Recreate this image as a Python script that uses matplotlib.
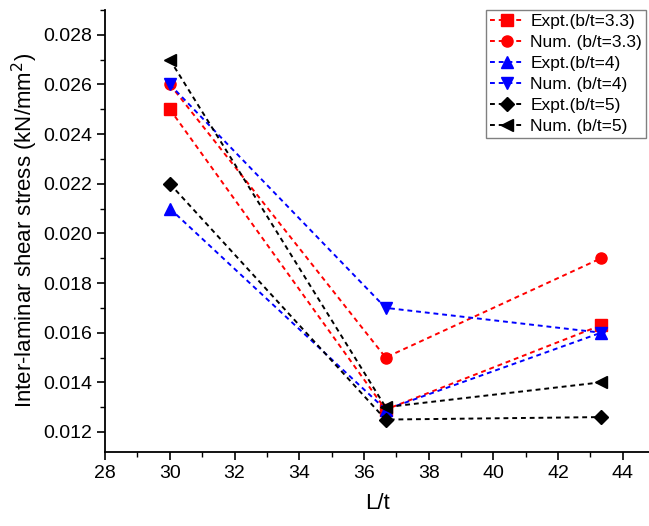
import numpy as np
import matplotlib.pyplot as plt
from matplotlib.ticker import MultipleLocator, FormatStrFormatter

plt.rcParams['font.family'] = ['Liberation Sans', 'DejaVu Sans']

lt = [30, 36.67, 43.33]
expt_33 = [0.025, 0.0129, 0.0163]
num_33 = [0.026, 0.015, 0.019]
expt_4 = [0.021, 0.0129, 0.016]
num_4 = [0.026, 0.017, 0.016]
expt_5 = [0.022, 0.0125, 0.0126]
num_5 = [0.027, 0.013, 0.014]

series = [
    (expt_33, 'Expt.(b/t=3.3)', 'red', 's'),
    (num_33, 'Num. (b/t=3.3)', 'red', 'o'),
    (expt_4, 'Expt.(b/t=4)', 'blue', '^'),
    (num_4, 'Num. (b/t=4)', 'blue', 'v'),
    (expt_5, 'Expt.(b/t=5)', 'black', 'D'),
    (num_5, 'Num. (b/t=5)', 'black', '<'),
]

fig = plt.figure(figsize=(6.49, 5.26), dpi=100)
ax = fig.add_axes([0.162, 0.141, 0.838, 0.840])

for vals, lab, col, mk in series:
    ms = 7 if mk == 'D' else 8
    ax.plot(lt, vals, linestyle=(0, (2.5, 2)), color=col, marker=mk,
            markersize=ms, linewidth=1.4, label=lab)

ax.set_xlim(28, 44.81)
ax.set_ylim(0.0112, 0.029)
ax.xaxis.set_major_locator(MultipleLocator(2))
ax.xaxis.set_minor_locator(MultipleLocator(1))
ax.yaxis.set_major_locator(MultipleLocator(0.002))
ax.yaxis.set_minor_locator(MultipleLocator(0.001))
ax.yaxis.set_major_formatter(FormatStrFormatter('%.3f'))

ax.spines['top'].set_visible(False)
ax.spines['right'].set_visible(False)
ax.spines['left'].set_linewidth(1.3)
ax.spines['bottom'].set_linewidth(1.3)
ax.tick_params(which='major', direction='out', length=6, width=1.2, labelsize=14)
ax.tick_params(which='minor', direction='out', length=3.5, width=1.0)

ax.set_xlabel('L/t', fontsize=16, labelpad=8)
ax.set_ylabel('Inter-laminar shear stress (kN/mm$^2$)', fontsize=16, labelpad=2)

leg = ax.legend(loc='upper right', bbox_to_anchor=(0.995, 1.0), fontsize=12.5,
                fancybox=False, framealpha=1, edgecolor='gray',
                handlelength=1.9, labelspacing=0.33, borderpad=0.25, handletextpad=0.4,
                borderaxespad=0.0)
leg.get_frame().set_linewidth(1.0)

fig.savefig('out.png', dpi=100)
